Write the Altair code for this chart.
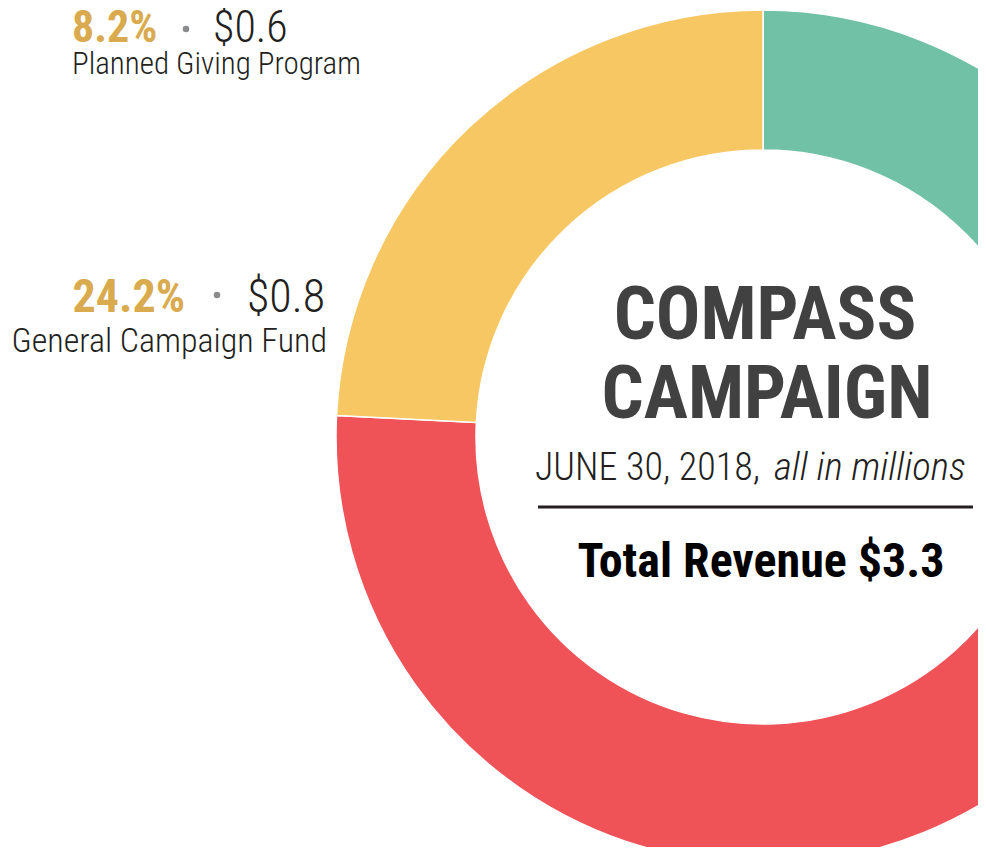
import altair as alt
import pandas as pd

# ---- data (percent of total revenue, clockwise from 12 o'clock) ----
categories = ["Major Gifts", "Planned Giving Program", "Endowment & Restricted Gifts", "General Campaign Fund"]
percents = [25.0, 8.2, 42.6, 24.2]
amounts = [0.8, 0.6, 1.1, 0.8]
colors = ["#70c1a5", "#8e7cc3", "#ef5257", "#f7c763"]

title_lines = ["COMPASS", "CAMPAIGN"]
date_text = "JUNE 30, 2018,"
unit_text = "all in millions"
total_text = "Total Revenue $3.3"

df = pd.DataFrame({"category": categories, "pct": percents, "amount": amounts,
                   "idx": list(range(len(categories)))})

FONT = "'Roboto Condensed', 'Liberation Sans Narrow', 'DejaVu Sans Condensed', sans-serif"
GOLD = "#d9aa4e"
DARK = "#231f20"
TITLE = "#414142"
DOT = "#8a8b8d"

CX, CY = 755, 429

donut = alt.Chart(df).mark_arc(innerRadius=287, outerRadius=427, stroke="white", strokeWidth=1.5).encode(
    theta=alt.Theta("pct:Q", stack=True),
    order=alt.Order("idx:Q"),
    color=alt.Color("category:N", scale=alt.Scale(domain=categories, range=colors), legend=None),
    x=alt.value(CX), y=alt.value(CY),
)


def txt(s, x, y, size, weight="normal", color=DARK, align="left", style="normal"):
    return alt.Chart(pd.DataFrame({"t": [s]})).mark_text(
        font=FONT, fontSize=size, fontWeight=weight, color=color, align=align,
        baseline="alphabetic", fontStyle=style,
    ).encode(x=alt.value(x), y=alt.value(y), text="t:N")


def dot(x, y):
    return alt.Chart(pd.DataFrame({"d": [0]})).mark_circle(size=42, color=DOT, opacity=1).encode(
        x=alt.value(x), y=alt.value(y))


pg = categories.index("Planned Giving Program")
gc = categories.index("General Campaign Fund")

layers = [
    donut,
    # Planned giving label
    txt(f"{percents[pg]}%", 64, 34, 44, "bold", GOLD),
    dot(178, 21),
    txt(f"${amounts[pg]}", 205, 34, 44, 300, DARK),
    txt(categories[pg], 64, 66, 31, 300, DARK),
    # General campaign label
    txt(f"{percents[gc]}%", 177, 304, 46, "bold", GOLD, align="right"),
    dot(209, 287),
    txt(f"${amounts[gc]}", 239, 304, 46, 300, DARK),
    txt(categories[gc], 319, 344, 34, 300, DARK, align="right"),
    # Center block
    txt(title_lines[0], 757, 331, 74, "bold", TITLE, align="center"),
    txt(title_lines[1], 759, 410, 74, "bold", TITLE, align="center"),
    txt(date_text, 752, 472, 38, 300, DARK, align="right"),
    txt(unit_text, 766, 472, 39, 300, DARK, align="left", style="italic"),
    alt.Chart(pd.DataFrame({"d": [0]})).mark_rule(color=DARK, strokeWidth=3).encode(
        x=alt.value(530), x2=alt.value(965), y=alt.value(499)),
    txt(total_text, 753, 569, 48, "bold", "#000000", align="center"),
]

chart = alt.layer(*layers).properties(
    width=970, height=839, padding=0, autosize=alt.AutoSizeParams(type="none")
).configure_view(stroke=None)

chart.save("out.html", embed_options={"renderer": "svg", "actions": False})
